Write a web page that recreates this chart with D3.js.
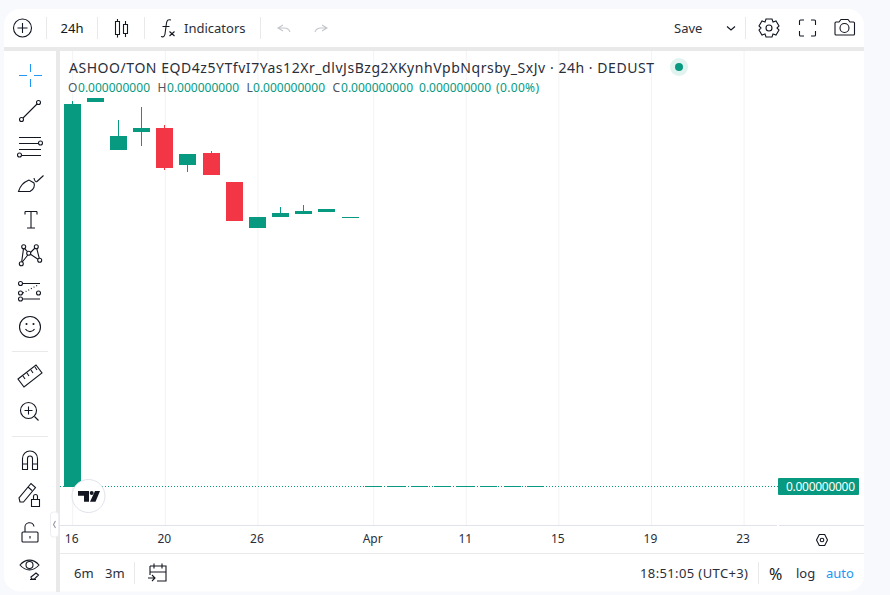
<!DOCTYPE html>
<html>
<head>
<meta charset="utf-8">
<style>
  html, body { margin: 0; padding: 0; background: #f8f9fd; overflow: hidden; }
  svg { display: block; font-family: "Noto Sans", "Open Sans", sans-serif; }
  .ink { fill: none; stroke: #131722; stroke-width: 1.1; }
</style>
<script src="https://cdn.jsdelivr.net/npm/d3@7"></script>
</head>
<body>
<svg id="chart"></svg>
<script>
// candles, one per trading day; values in units of 1e-11
const opens  = [0, 99, 86.6, 91.3, 92.3, 82.8, 85.9, 78.4, 66.6, 69.4, 70.2, 70.7, 69.3, 0, 0, 0, 0, 0, 0, 0, 0];
const highs  = [99.2, 100, 94.3, 97.7, 93.1, 85.6, 86.4, 78.4, 69.4, 72, 72.5, 71.5, 69.3, 0, 0, 0, 0, 0, 0, 0, 0];
const lows   = [0, 99, 86.6, 87.7, 81.5, 81, 80.2, 68.4, 66.6, 69.4, 70.2, 70.7, 69.3, 0, 0, 0, 0, 0, 0, 0, 0];
const closes = [98.5, 100, 90.2, 92.3, 82, 85.6, 80.2, 68.4, 69.4, 70.4, 71, 71.5, 69.3, 0, 0, 0, 0, 0, 0, 0, 0];

const tickSlots  = [0, 4, 8, 13, 17, 21, 25, 29];
const tickLabels = ["16", "20", "26", "Apr", "11", "15", "19", "23"];

const title = "ASHOO/TON EQD4z5YTfvI7Yas12Xr_dlvJsBzg2XKynhVpbNqrsby_SxJv · 24h · DEDUST";
const lastPrice = "0.000000000";

const width = 890, height = 595;
const up = "#089981", down = "#f23645", blue = "#2196f3", sep = "#e9e9ea", grid = "#f2f3f5";
const pane = {left: 60, right: 864, top: 51, bottom: 525};
const candleW = 17;

const x = d3.scaleLinear().domain([0, 29]).range([72.22, 743.57]);
const y = d3.scaleLinear().domain([0, 100]).range([487, 98]);

const svg = d3.select("#chart")
  .attr("width", width).attr("height", height)
  .attr("viewBox", [0, 0, width, height]);

// window frame
svg.append("rect").attr("x", 4).attr("y", 9).attr("width", 860).attr("height", 582.5)
  .attr("rx", 16).attr("fill", "#fff");
svg.append("rect").attr("x", 4).attr("y", 47).attr("width", 860).attr("height", 4).attr("fill", sep);
svg.append("rect").attr("x", 56).attr("y", 47).attr("width", 4).attr("height", 545).attr("fill", sep);

// time axis, its ticks double as the vertical grid
const axis = d3.axisBottom(x)
  .tickValues(tickSlots)
  .tickFormat((d, i) => tickLabels[i])
  .tickSize(0).tickPadding(0);

svg.append("g")
  .attr("transform", `translate(0,${pane.bottom})`)
  .call(axis)
  .call(g => g.select(".domain").remove())
  .call(g => g.selectAll(".tick line")
    .attr("y1", pane.top - pane.bottom).attr("y2", 0)
    .attr("stroke", grid))
  .call(g => g.selectAll(".tick text")
    .attr("x", -1).attr("y", 18).attr("dy", 0)
    .attr("font-family", "Noto Sans, sans-serif")
    .attr("font-size", 12).attr("fill", "#2a2e39"));

// axis rules
const rule = (x1, y1, x2, y2, c) => svg.append("line")
  .attr("x1", x1).attr("y1", y1).attr("x2", x2).attr("y2", y2)
  .attr("stroke", c).attr("shape-rendering", "crispEdges");
rule(60, 525.5, 777, 525.5, "#e0e3eb");
rule(779, 525.5, 864, 525.5, "#e0e3eb");
rule(60, 553.5, 864, 553.5, sep);

// last price line
svg.append("line")
  .attr("x1", pane.left).attr("x2", 778)
  .attr("y1", y(0) - 0.5).attr("y2", y(0) - 0.5)
  .attr("stroke", up).attr("stroke-dasharray", "1 2");

// candles
const data = opens.map((o, i) => ({i, o, h: highs[i], l: lows[i], c: closes[i]}));
const left = d => Math.round(x(d.i) - candleW / 2);
const color = d => d.c >= d.o ? up : down;

const candles = svg.append("g").attr("shape-rendering", "crispEdges");
candles.selectAll(".wick").data(data).join("rect")
  .attr("class", "wick")
  .attr("x", d => left(d) + 8).attr("width", 1)
  .attr("y", d => y(d.h)).attr("height", d => y(d.l) - y(d.h))
  .attr("fill", color);
candles.selectAll(".body").data(data).join("rect")
  .attr("class", "body")
  .attr("x", left).attr("width", candleW)
  .attr("y", d => d.o === d.c ? Math.ceil(y(d.c) - 1) : Math.min(y(d.o), y(d.c)))
  .attr("height", d => Math.max(1, Math.abs(y(d.o) - y(d.c))))
  .attr("fill", color);

// price label
svg.append("rect").attr("x", 778).attr("y", 478).attr("width", 81).attr("height", 17)
  .attr("rx", 1).attr("fill", up);
const label = (t, px, py, size, fill, anchor, len) => {
  const el = svg.append("text")
    .attr("x", px).attr("y", py).attr("font-size", size)
    .attr("fill", fill).attr("text-anchor", anchor || "start").text(t);
  if (len) el.attr("textLength", len).attr("lengthAdjust", "spacing");
  return el;
};
label(lastPrice, 820.5, 491, 12, "#fff", "middle", 69);

// legend
label(title, 69, 73, 14, "#2a2e39", "start", 585);
[[68, "O", 78], [157.5, "H", 167], [246.5, "L", 253], [332.5, "C", 341]].forEach(([a, k, b]) => {
  label(k, a, 92, 12, "#50535e");
  label(lastPrice, b, 92, 12, up, "start", 72);
});
label(lastPrice, 419, 92, 12, up, "start", 72);
label("(0.00%)", 496, 92, 12, up, "start", 43);
svg.append("circle").attr("cx", 679).attr("cy", 67).attr("r", 9).attr("fill", "#e0f3ef");
svg.append("circle").attr("cx", 679).attr("cy", 67).attr("r", 4).attr("fill", up);

// toolbar text
label("24h", 72, 33, 13, "#131722", "middle");
label("Indicators", 184, 33, 13, "#2a2e39");
label("Save", 674, 33, 13, "#2a2e39");
label("6m", 74, 578, 13, "#2a2e39");
label("3m", 105, 578, 13, "#2a2e39");
label("18:51:05 (UTC+3)", 640, 578, 13, "#2a2e39", "start", 108);
label("%", 769, 580, 16, "#131722");
label("log", 796, 578, 13, "#2a2e39");
label("auto", 826, 578, 13, blue);

// separators
[46.5, 97.5, 144.5, 260.5, 745.5].forEach(v => rule(v, 17, v, 39, sep));
[134.5, 758.5].forEach(v => rule(v, 562, v, 584, sep));
[351.5, 436.5].forEach(v => rule(12, v, 48, v, sep));

// icons
const icon = (d, c) => svg.append("path").attr("class", "ink").attr("d", d)
  .style("stroke", c || null);
const ring = (cx, cy, r) => svg.append("circle").attr("class", "ink")
  .attr("cx", cx).attr("cy", cy).attr("r", r);

// top bar
ring(22.5, 28, 9);
icon("M22.5 23v10M17.5 28h10");
icon("M115.5 21.5h4v13h-4zM117.5 19v2.5M117.5 34.5v3M123.5 24.5h4v9h-4zM125.5 21v3.5M125.5 33.5v3.5");
icon("M171 20c-3-1-4 .5-4.500 3l-1.500 11c-.5 2.500-1.500 3.500-4 2.500M162.500 26.500h7M169.500 31.500l5 4.500M174.500 31.500l-5 4.500");
icon("M283 25l-5 3 5 3M278 28h6c3 0 5 1 6 4", "#c4c6cc");
icon("M322 25l5 3-5 3M327 28h-6c-3 0-5 1-6 4", "#c4c6cc");
icon("M727 26.500l4 3.500 4-3.500");
ring(769, 28, 3);
icon("M766 19h6l1 3 3-1 3 5-2 2 2 2-3 5-3-1-1 3h-6l-1-3-3 1-3-5 2-2-2-2 3-5 3 1z");
icon("M799.500 25v-4q0-1 1-1h3.500M811 20h3.500q1 0 1 1v4M815.500 31v4q0 1-1 1H811M804 36h-3.500q-1 0-1-1v-4");
icon("M835 23q0-1 1-1h3l2-2.500h7l2 2.500h3.500q1 0 1 1v11q0 1-1 1H836q-1 0-1-1z");
ring(844.5, 28, 4.5);

// left tools
icon("M30.500 64v8M30.500 79v8M19 75.500h8M34 75.500h8", blue);
ring(21.500, 119.500, 2); ring(38.500, 102.500, 2);
icon("M23 118l14-14");
ring(40.500, 143, 2); ring(19.500, 155, 2);
icon("M19 137.500h22M19 143.500h19.500M19 149.500h22M21.500 155.500h19.500");
icon("M18.500 191.500h11.500c4-2 5-6 4-8.500l-5-3c-5 2-9 6-10.500 11.500zM34 178c.5 3 2 4.500 3 3.500l6.500-6");
icon("M25 211.500h12M31 211.500v16.500M27 228h8M25 211.500v3M37 211.500v3");
ring(23.700, 246.700, 2); ring(36.300, 246.700, 2); ring(21.300, 263.700, 2); ring(39.700, 260.300, 2); ring(28.700, 253.300, 2);
icon("M23.500 248.700l-1.800 13M24.500 248.500l3 3.200M30.500 252.500l4.500-4.500M36.800 248.700l2.500 9.700M30.500 254.300l7.500 5M27.800 255l-5.500 7");
ring(20.500, 283.500, 2); ring(20.500, 293, 2); ring(38.500, 293, 2); ring(20.500, 299, 2);
icon("M23 283.500h17M23 299h17");
svg.append("path").attr("class", "ink").attr("d", "M23 293l15-8").attr("stroke-dasharray", "1 2");
ring(30, 327, 10.500);
icon("M25.500 329c2 3.500 7 3.500 9 0");
ring(26.500, 324, .5); ring(33.500, 324, .5);
icon("M18 379l18-14 6 8-18 14zM23 376l2 3M27 373l2 3M31 370l2 3M35 367l2 3");
ring(28.500, 410.500, 8);
icon("M28.500 406.500v8M24.500 410.500h8M34.500 416.500l4 4");
icon("M22.500 469.500v-11a7.500 7.500 0 0 1 15 0v11h-5v-11a2.500 2.500 0 0 0-5 0v11zM22.500 464h5M32.500 464h5");
icon("M20 502l-1-4 12-14.500 4.500 4-12 14.500zM28 487l4 3.500M31.500 506.500h8v-7h-8zM33.500 499.500v-3a2 2 0 0 1 4 0v3");
icon("M23 532h14q1 0 1 1v8q0 1-1 1h-14q-1 0-1-1v-8q0-1 1-1zM25 532v-4a4.500 4.500 0 0 1 9-1.500M30 536v2.500");
icon("M20 565c5.500-6.500 13.500-6.500 19 0-5.500 6.500-13.500 6.500-19 0zM31 577l5-4 2.500 2-4 4h-3zM30 579.500h6");
ring(29.500, 565, 3.500);

// collapse handle
svg.append("rect").attr("x", 50.500).attr("y", 512).attr("width", 8).attr("height", 25)
  .attr("rx", 3).attr("fill", "#fff").attr("stroke", "#eceef2");
icon("M55.500 521l-2 3.500 2 3.500", "#9598a1");

// logo badge
svg.append("circle").attr("cx", 88.500).attr("cy", 496).attr("r", 16.500)
  .attr("fill", "#fff").attr("stroke", "#e0e3eb");
svg.append("path").attr("fill", "#131722")
  .attr("d", "M78 491h11v10.700h-5v-6h-6zM95 491h5l-4.500 10.700h-5.500z");
svg.append("circle").attr("cx", 91.700).attr("cy", 493).attr("r", 2).attr("fill", "#131722");

// scale settings, calendar
icon("M816.500 540l2.800-5.500h5.400l2.800 5.500-2.800 5.500h-5.400z");
ring(822, 540, 1.800);
icon("M150 566h16v15h-9M150 572h16M154 563.500v5M162 563.500v5M150 566v9M148 578h7M152 575l3 3-3 3");
</script>
</body>
</html>
